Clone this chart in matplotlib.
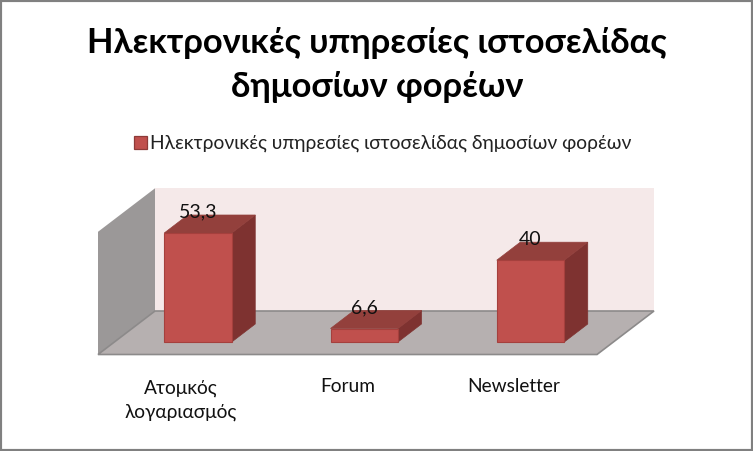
import matplotlib
matplotlib.use("Agg")
import matplotlib.pyplot as plt
from matplotlib.patches import Polygon, Rectangle

categories = ["Ατομκός\nλογαριασμός", "Forum", "Newsletter"]
values = [53.3, 6.6, 40]
value_labels = ["53,3", "6,6", "40"]
series_name = "Ηλεκτρονικές υπηρεσίες ιστοσελίδας δημοσίων φορέων"
chart_title = "Ηλεκτρονικές υπηρεσίες ιστοσελίδας\nδημοσίων φορέων"
axis_max = 60

W, H = 753, 451
PX_PER_CAT = 166.25
PX_PER_VAL = 2.045
CAT0_PX = 198.0
BASE_PX = 342.0

plt.rcParams["font.family"] = ["Lato", "Open Sans", "DejaVu Sans"]
fig = plt.figure(figsize=(W / 100, H / 100), dpi=100, facecolor="white")
ax = fig.add_axes([0, 0, 1, 1])
ax.set_xlim(-CAT0_PX / PX_PER_CAT, (W - CAT0_PX) / PX_PER_CAT)
ax.set_ylim((BASE_PX - H) / PX_PER_VAL, BASE_PX / PX_PER_VAL)
ax.axis("off")

dx = lambda p: p / PX_PER_CAT
dy = lambda p: p / PX_PER_VAL
X = lambda p: (p - CAT0_PX) / PX_PER_CAT
Y = lambda p: (BASE_PX - p) / PX_PER_VAL

# box: walls and floor
fx0, fx1 = X(98), X(597)
f0 = Y(354.5)
ox, oy = dx(57), dy(43.5)
top_front = f0 + axis_max
edge = "#8c8a8a"
ax.add_patch(Polygon([(fx0 + ox, f0 + oy), (fx1 + ox, f0 + oy), (fx1 + ox, top_front + oy), (fx0 + ox, top_front + oy)],
                     fc="#f5e9e9", ec="none", zorder=1))
ax.add_patch(Polygon([(fx0, f0), (fx0 + ox, f0 + oy), (fx0 + ox, top_front + oy), (fx0, top_front)],
                     fc="#9b9898", ec="none", zorder=2))
ax.add_patch(Polygon([(fx0, f0), (fx1, f0), (fx1 + ox, f0 + oy), (fx0 + ox, f0 + oy)],
                     fc="#b6b0b0", ec=edge, lw=1.2, zorder=2))

# bars
bar_w = 67.5 / PX_PER_CAT
bx, by = dx(23.5), dy(18)
for i, v in enumerate(values):
    l, r = i - bar_w / 2, i + bar_w / 2
    ax.bar(i, v, width=bar_w, color="#c0504d", edgecolor="#a5403d", linewidth=0.8, zorder=5)
    ax.add_patch(Polygon([(r, 0), (r + bx, by), (r + bx, v + by), (r, v)], fc="#7e3230", ec="#7e3230", lw=0.5, zorder=4))
    ax.add_patch(Polygon([(l, v), (r, v), (r + bx, v + by), (l + bx, v + by)], fc="#93403c", ec="#93403c", lw=0.5, zorder=4))
    ax.text(i, v + dy(21), value_labels[i], ha="center", va="center", fontsize=14, color="#111111", zorder=6)

# category labels
label_x = [i - dx(17) for i in range(len(categories))]
label_y = [Y(400), Y(387), Y(387)]
for lx, ly, c in zip(label_x, label_y, categories):
    ax.text(lx, ly, c, ha="center", va="center", fontsize=13.8, color="#111111", linespacing=1.48, zorder=6)

# title and legend
ax.text(X(377), Y(65), chart_title, ha="center", va="center", fontsize=24.8, fontweight="bold",
        color="black", linespacing=1.43, zorder=6)
ax.add_patch(Rectangle((X(133.5), Y(149)), dx(13), dy(13), fc="#c0504d", ec="#8e3a38", lw=0.9, zorder=6))
ax.text(X(150), Y(143), series_name, ha="left", va="center", fontsize=13.9, color="#222222", zorder=6)

# outer frame
fig.add_artist(Rectangle((0, 0), 1, 1, transform=fig.transFigure, fill=False, ec="#808080", lw=3))

fig.savefig("out.png", dpi=100, facecolor="white")
